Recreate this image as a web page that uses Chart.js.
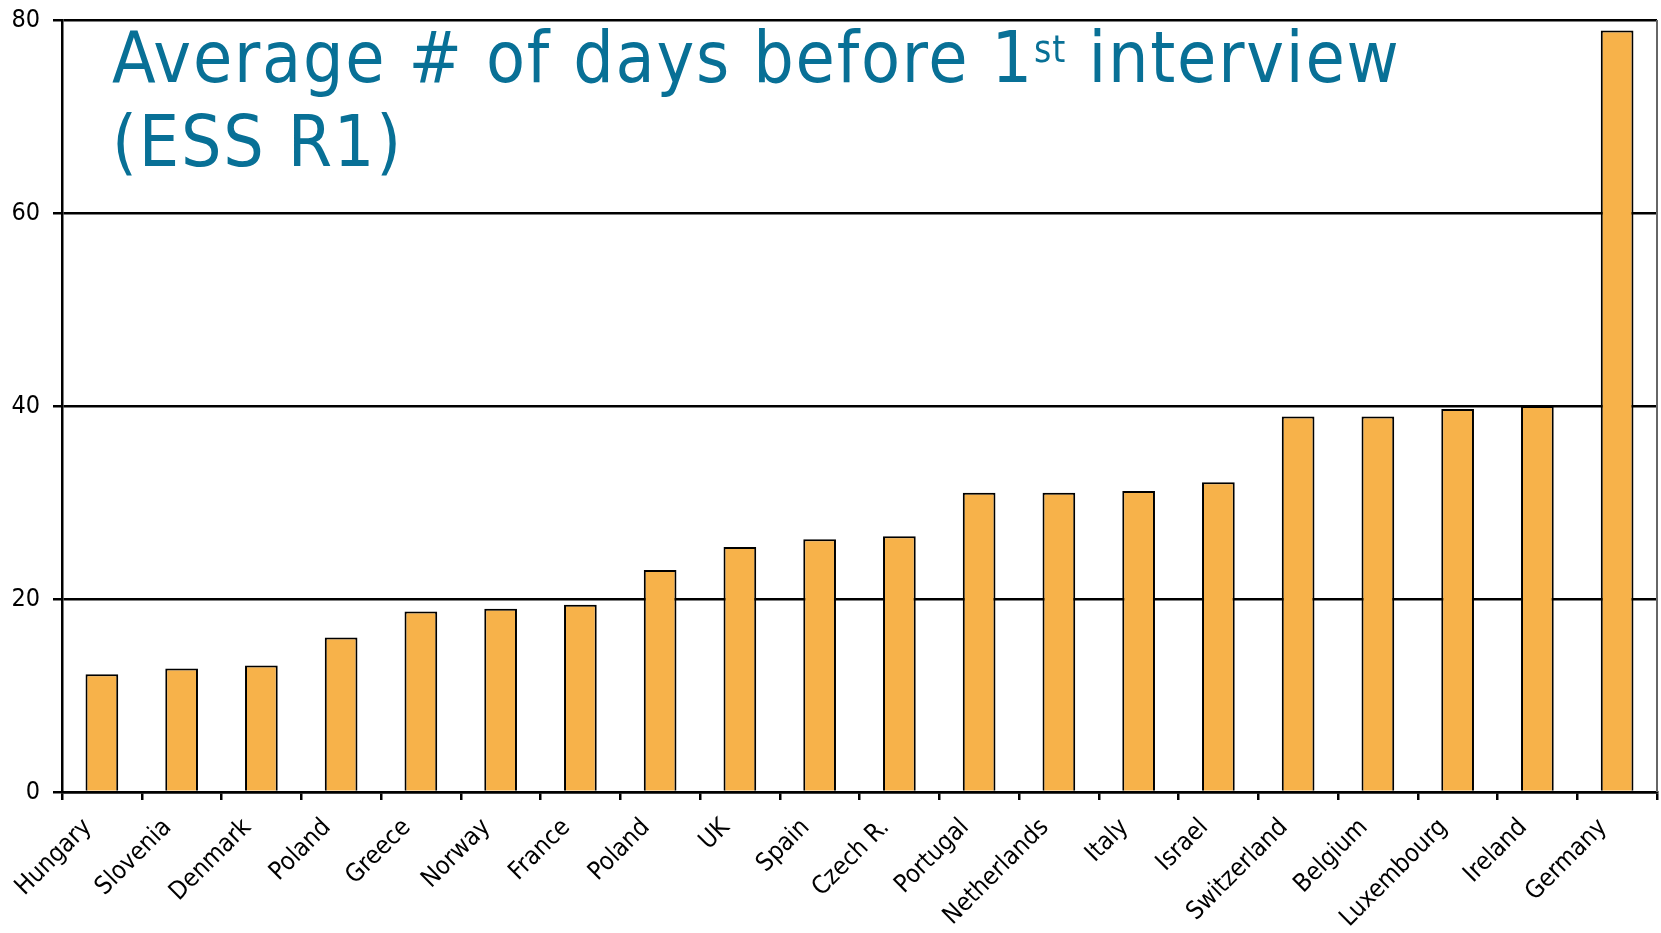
<!DOCTYPE html>
<html lang="en">

<head>
    <meta charset="UTF-8">
    <title>Average # of days before 1st interview (ESS R1)</title>
    <script src="https://cdn.jsdelivr.net/npm/chart.js"></script>
    <style>
        body {
            margin: 0;
            background-color: #fff;
            overflow: hidden;
        }

        .wrap {
            position: relative;
            width: 1661px;
            height: 933px;
        }

        .heading {
            position: absolute;
            left: 112px;
            top: 16px;
            font-family: 'DejaVu Sans Condensed', 'DejaVu Sans', sans-serif;
            font-size: 71px;
            line-height: 84px;
            letter-spacing: 1.8px;
            color: #087096;
            white-space: nowrap;
        }

        .heading .sup {
            font-size: 37px;
            line-height: 0;
            letter-spacing: 1px;
            vertical-align: 20px;
        }
    </style>
</head>

<body>
    <div class="wrap">
        <canvas id="daysChart" width="1661" height="933"></canvas>
        <div class="heading">Average # of days before 1<span class="sup">st</span> interview<br>(ESS R1)</div>
    </div>
    <script>
        const countries = ['Hungary', 'Slovenia', 'Denmark', 'Poland', 'Greece', 'Norway', 'France', 'Poland',
            'UK', 'Spain', 'Czech R.', 'Portugal', 'Netherlands', 'Italy', 'Israel', 'Switzerland',
            'Belgium', 'Luxembourg', 'Ireland', 'Germany'];
        const avgDays = [12.2, 12.8, 13.1, 16.0, 18.7, 19.0, 19.4, 23.0, 25.4, 26.2, 26.5, 31.0, 31.0, 31.2,
            32.1, 38.9, 38.9, 39.7, 40.0, 78.9];
        const yTicks = [0, 20, 40, 60, 80];

        const labelFamily = "'DejaVu Sans Condensed', 'DejaVu Sans'";

        // thin frame line on the right side of the plot
        const rightFrame = {
            id: 'rightFrame',
            afterDraw(chart) {
                const { ctx, chartArea } = chart;
                ctx.save();
                ctx.strokeStyle = '#666';
                ctx.lineWidth = 2;
                ctx.beginPath();
                ctx.moveTo(chartArea.right, chartArea.top);
                ctx.lineTo(chartArea.right, chartArea.bottom);
                ctx.stroke();
                ctx.restore();
            }
        };

        new Chart(document.getElementById('daysChart'), {
            type: 'bar',
            data: {
                labels: countries,
                datasets: [{
                    label: 'Average # of days',
                    data: avgDays,
                    backgroundColor: '#f7b24a',
                    borderColor: '#000',
                    borderWidth: 2,
                    barPercentage: 0.41,
                    categoryPercentage: 1
                }]
            },
            options: {
                responsive: false,
                animation: false,
                layout: { padding: { top: 20, right: 4, left: 0, bottom: 0 } },
                plugins: {
                    legend: { display: false },
                    tooltip: { enabled: false }
                },
                scales: {
                    x: {
                        afterFit: (scale) => {
                            scale.height = 141;
                            scale.paddingLeft = 0;
                            scale.paddingRight = 0;
                        },
                        grid: {
                            drawOnChartArea: false,
                            drawTicks: true,
                            tickLength: 8,
                            color: '#000',
                            lineWidth: 2.5
                        },
                        border: { color: '#000', width: 2.5 },
                        ticks: {
                            autoSkip: false,
                            minRotation: 45,
                            maxRotation: 45,
                            padding: 13,
                            labelOffset: -14,
                            color: '#000',
                            font: { family: labelFamily, size: 25 }
                        }
                    },
                    y: {
                        min: 0,
                        max: 80,
                        afterFit: (scale) => {
                            scale.width = 62;
                            scale.paddingTop = 0;
                            scale.paddingBottom = 0;
                        },
                        afterBuildTicks: (scale) => { scale.ticks = yTicks.map(v => ({ value: v })); },
                        grid: {
                            color: '#000',
                            lineWidth: 2.5,
                            tickLength: 9
                        },
                        border: { color: '#000', width: 2.5 },
                        ticks: {
                            padding: 13,
                            color: '#000',
                            font: { family: labelFamily, size: 25 }
                        }
                    }
                }
            },
            plugins: [rightFrame]
        });
    </script>
</body>

</html>
